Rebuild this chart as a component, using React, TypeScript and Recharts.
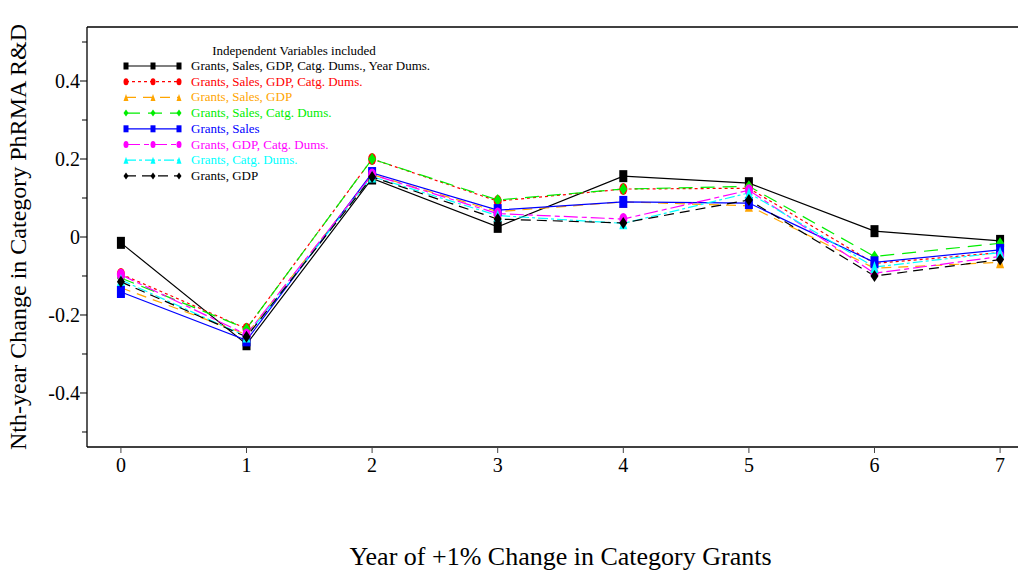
import React from "react";
import { LineChart, Line, XAxis, YAxis, Legend, ReferenceLine } from "recharts";

const years = [0, 1, 2, 3, 4, 5, 6, 7];
const yTicks = [-0.5, -0.4, -0.3, -0.2, -0.1, 0, 0.1, 0.2, 0.3, 0.4, 0.5];
const majorTickLabels = ["-0.4", "-0.2", "0", "0.2", "0.4"];
const yTop = 0.5385;

const allVars = [-0.015, -0.275, 0.15, 0.026, 0.156, 0.138, 0.015, -0.01];
const noYearDums = [-0.095, -0.235, 0.2, 0.092, 0.123, 0.125, -0.068, -0.04];
const salesGdp = [-0.13, -0.25, 0.16, 0.065, 0.09, 0.08, -0.08, -0.065];
const salesCatg = [-0.105, -0.235, 0.2, 0.095, 0.123, 0.13, -0.05, -0.016];
const salesOnly = [-0.141, -0.265, 0.164, 0.069, 0.09, 0.087, -0.065, -0.033];
const gdpCatg = [-0.097, -0.25, 0.16, 0.06, 0.046, 0.12, -0.093, -0.05];
const catgOnly = [-0.11, -0.255, 0.155, 0.055, 0.035, 0.113, -0.077, -0.04];
const gdpOnly = [-0.115, -0.256, 0.154, 0.046, 0.036, 0.095, -0.1, -0.058];

const seriesNames = [
  "Grants, Sales, GDP, Catg. Dums., Year Dums.",
  "Grants, Sales, GDP, Catg. Dums.",
  "Grants, Sales, GDP",
  "Grants, Sales, Catg. Dums.",
  "Grants, Sales",
  "Grants, GDP, Catg. Dums.",
  "Grants, Catg. Dums.",
  "Grants, GDP",
];
const seriesValues = [allVars, noYearDums, salesGdp, salesCatg, salesOnly, gdpCatg, catgOnly, gdpOnly];

type Shape = "square" | "circle" | "triangle" | "diamond";
const styles: { color: string; dash?: string; shape: Shape }[] = [
  { color: "#000000", shape: "square" },
  { color: "#ff0000", dash: "3 3", shape: "circle" },
  { color: "#ffa500", dash: "10 7", shape: "triangle" },
  { color: "#00ee00", dash: "14 8", shape: "diamond" },
  { color: "#0000ff", shape: "square" },
  { color: "#ff00ff", dash: "14 4 5 4", shape: "circle" },
  { color: "#00ffff", dash: "10 3 3 3", shape: "triangle" },
  { color: "#000000", dash: "10 6", shape: "diamond" },
];

const data = years.map((yr, i) => {
  const row: Record<string, number> = { year: yr };
  seriesValues.forEach((vals, k) => {
    row["s" + k] = vals[i];
  });
  return row;
});

const FONT = "'Liberation Serif', 'Times New Roman', serif";

function marker(shape: Shape, cx: number, cy: number, color: string, w: number, h: number, key?: any) {
  const hw = w / 2;
  const hh = h / 2;
  if (shape === "square") return <rect key={key} x={cx - hw} y={cy - hh} width={w} height={h} fill={color} />;
  if (shape === "circle") return <ellipse key={key} cx={cx} cy={cy} rx={hw} ry={hh} fill={color} />;
  if (shape === "triangle")
    return <polygon key={key} points={`${cx},${cy - hh} ${cx + hw},${cy + hh} ${cx - hw},${cy + hh}`} fill={color} />;
  return <polygon key={key} points={`${cx},${cy - hh} ${cx + hw},${cy} ${cx},${cy + hh} ${cx - hw},${cy}`} fill={color} />;
}

const YTick = (props: any) => {
  const { x, y, payload } = props;
  const v = Math.round(payload.value * 10) / 10;
  const label = v === 0 ? "0" : v.toFixed(1);
  const major = majorTickLabels.includes(label);
  return (
    <g>
      <line x1={x - (major ? 7 : 5)} x2={x} y1={y} y2={y} stroke="#000" />
      {major && (
        <text x={x - 7} y={y + 7} textAnchor="end" fontSize={20} fontFamily={FONT} fill="#000">
          {label}
        </text>
      )}
    </g>
  );
};

const XTick = (props: any) => {
  const { x, y, payload } = props;
  return (
    <g>
      <line x1={x} x2={x} y1={y} y2={y + 6} stroke="#444" />
      <text x={x} y={y + 25} textAnchor="middle" fontSize={20} fontFamily={FONT} fill="#000">
        {payload.value}
      </text>
    </g>
  );
};

const LegendBox = () => (
  <svg width={360} height={150} style={{ display: "block" }}>
    <text x={174} y={15} textAnchor="middle" fontSize={13} fontFamily={FONT} fill="#000">
      Independent Variables included
    </text>
    {styles.map((s, i) => {
      const yy = 26 + i * 15.7;
      return (
        <g key={i}>
          <line x1={6} x2={60} y1={yy} y2={yy} stroke={s.color} strokeDasharray={s.dash} strokeWidth={1.2} />
          {[6, 33, 59].map((mx, j) => marker(s.shape, mx, yy, s.color, 5, 7, j))}
          <text x={71} y={yy + 4} fontSize={13} fontFamily={FONT} fill={s.color}>
            {seriesNames[i]}
          </text>
        </g>
      );
    })}
  </svg>
);

export default function App() {
  return (
    <div style={{ width: 1018, height: 565, overflow: "hidden", background: "#fff" }}>
      <LineChart width={1030} height={565} data={data} margin={{ top: 19, right: 4, bottom: 0, left: 0 }}>
        <XAxis
          dataKey="year"
          type="number"
          domain={[-0.27, 7.27]}
          ticks={years}
          tickSize={0}
          tickMargin={0}
          tickLine={false}
          tick={<XTick />}
          height={126}
          axisLine={{ stroke: "#000", strokeWidth: 1.3 }}
          interval={0}
          label={{
            value: "Year of +1% Change in Category Grants",
            position: "insideBottom",
            offset: 8,
            fontSize: 26,
            fontFamily: FONT,
            fill: "#000",
          }}
        />
        <YAxis
          type="number"
          domain={[-yTop, yTop]}
          ticks={yTicks}
          width={79}
          tickSize={0}
          tickMargin={0}
          tickLine={false}
          tick={<YTick />}
          interval={0}
          axisLine={{ stroke: "#000", strokeWidth: 1.3 }}
          label={{
            value: "Nth-year Change in Category PhRMA R&D",
            angle: -90,
            position: "insideLeft",
            offset: 9,
            fontSize: 24,
            fontFamily: FONT,
            fill: "#000",
            style: { textAnchor: "middle" },
          }}
        />
        <ReferenceLine y={yTop} stroke="#000" strokeWidth={1.3} ifOverflow="extendDomain" />
        <Legend
          layout="vertical"
          align="center"
          verticalAlign="middle"
          wrapperStyle={{ left: 112, top: 32, width: 360 }}
          content={() => <LegendBox />}
        />
        {styles.map((s, k) => (
          <Line
            key={k}
            type="linear"
            dataKey={"s" + k}
            name={seriesNames[k]}
            stroke={s.color}
            strokeWidth={1.2}
            strokeDasharray={s.dash}
            isAnimationActive={false}
            dot={(p: any) => marker(s.shape, p.cx, p.cy, s.color, 8, 12, "d" + k + "-" + p.index)}
            activeDot={false}
          />
        ))}
      </LineChart>
    </div>
  );
}
